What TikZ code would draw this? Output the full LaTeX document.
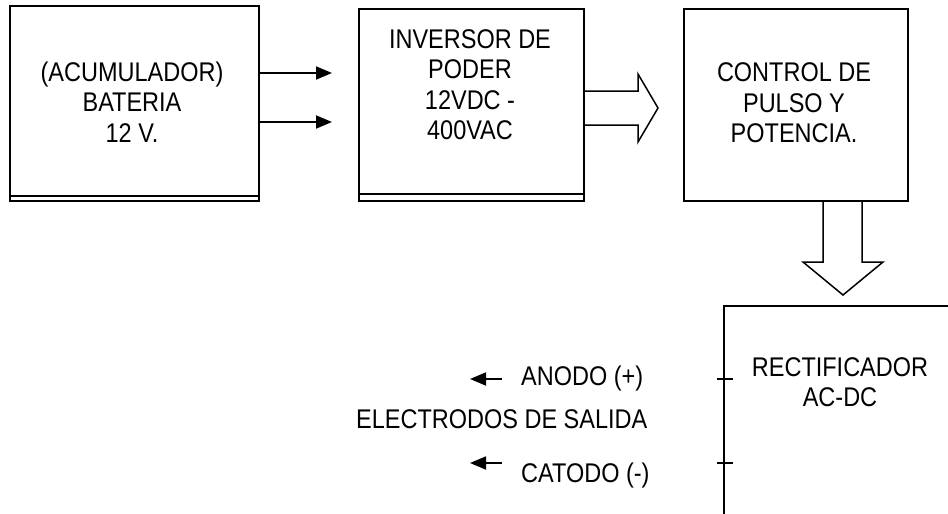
\documentclass[tikz,border=0pt]{standalone}
\usepackage{fontspec}
\setmainfont{Liberation Sans}[FakeStretch=0.87]
\usetikzlibrary{arrows.meta}
\begin{document}
\begin{tikzpicture}[x=1pt,y=-1pt,
  blockbox/.style={draw=black,line width=2pt,inner sep=0pt,anchor=north west},
  boxtext/.style={align=center,inner sep=0pt,font=\fontsize{27}{30.5}\selectfont},
  plaintext/.style={inner sep=0pt,font=\fontsize{27}{30.5}\selectfont},
  thinarrow/.style={line width=1.8pt,-{Triangle[length=16pt,width=13pt]}},
  hollow/.style={draw=black,line width=1.5pt,line join=miter},
  tick/.style={line width=1.8pt}]
\useasboundingbox (0,0) rectangle (948,514);
\clip (0,0) rectangle (948,514);
% blocks
\node[blockbox,minimum width=249pt,minimum height=194.5pt] (bat) at (9,5) {};
\draw[line width=2pt] (9,196.3) -- (258,196.3);
\node[blockbox,minimum width=225pt,minimum height=192pt] (inv) at (358,8) {};
\draw[line width=2pt] (358,194) -- (583,194);
\node[blockbox,minimum width=224pt,minimum height=192pt] (ctl) at (683,8) {};
\node[blockbox,minimum width=300pt,minimum height=300pt] (rec) at (723,305) {};
% texts
\node[boxtext] (tbat) at (132,102) {(ACUMULADOR)\\BATERIA\\12 V.};
\node[boxtext] (tinv) at (470,84.5) {INVERSOR DE\\PODER\\12VDC -\\400VAC};
\node[boxtext] (tctl) at (794,103) {CONTROL DE\\PULSO Y\\POTENCIA.};
\node[boxtext] (trec) at (840,382) {RECTIFICADOR\\AC-DC};
\node[plaintext,anchor=base west] (anodo) at (521,385) {ANODO (+)};
\node[plaintext,anchor=base west] (electrodos) at (356,428) {ELECTRODOS DE SALIDA};
\node[plaintext,anchor=base west] (catodo) at (521,482) {CATODO (-)};
% thin arrows battery -> inverter
\draw[thinarrow,shorten >=26pt] (bat.east |- 0,73) -- (inv.west |- 0,73);
\draw[thinarrow,shorten >=26pt] (bat.east |- 0,122) -- (inv.west |- 0,122);
% hollow arrow inverter -> control
\draw[hollow] (inv.east |- 0,91) -- (638,91) -- (638,74) -- (658,108) -- (638,142) -- (638,125) -- (inv.east |- 0,125);
% hollow arrow control -> rectifier
\draw[hollow] (823,0 |- ctl.south) -- (823,262) -- (803,262) -- (843,295) -- (883,262) -- (862,262) -- (862,0 |- ctl.south);
% ticks on rectifier
\coordinate (ta) at (717,379);
\coordinate (tc) at (717,463);
\draw[tick] (ta) -- ++(16,0);
\draw[tick] (tc) -- ++(16,0);
% output arrows
\coordinate (aa) at (502,379);
\coordinate (ac) at (502,463);
\draw[thinarrow] (aa) -- ++(-32,0);
\draw[thinarrow] (ac) -- ++(-32,0);
\end{tikzpicture}
\end{document}
